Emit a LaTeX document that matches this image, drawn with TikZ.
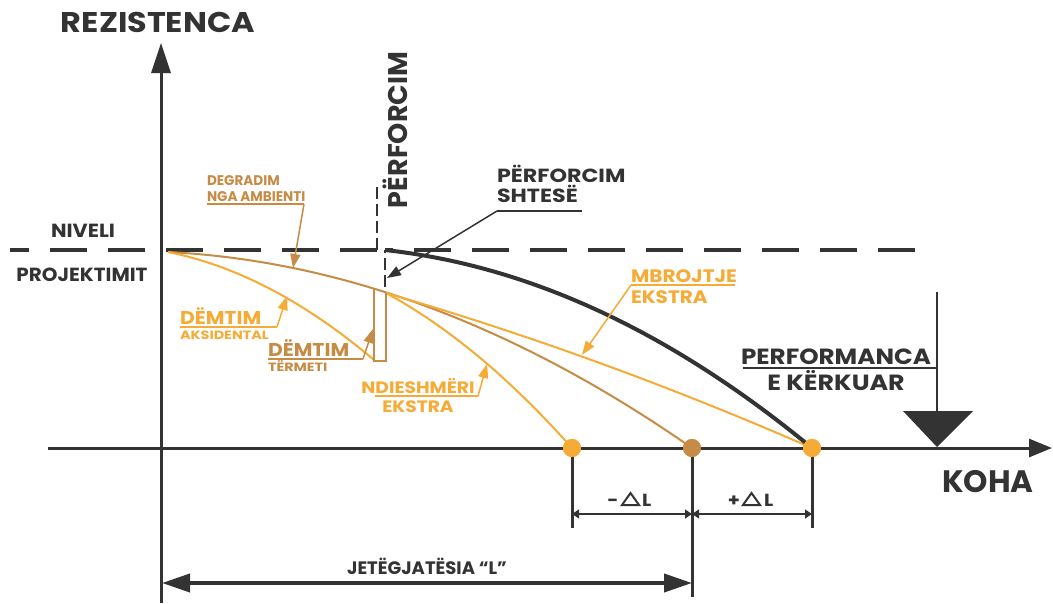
\documentclass[tikz,border=0pt]{standalone}
\usepackage{fontspec}
\setmainfont{Poppins}
\usetikzlibrary{arrows.meta}
\definecolor{dk}{HTML}{333333}
\definecolor{orn}{HTML}{F5AB35}
\definecolor{brn}{HTML}{C68B44}
\newcommand\fs[2]{\fontsize{#1pt}{#1pt}\selectfont\bfseries\addfontfeatures{FakeStretch=#2}}
\tikzset{
  lab/.style={inner sep=0pt, outer sep=0pt},
  axis/.style={draw=dk, line width=3pt},
  lead/.style={line width=1.5pt},
  leadarrow/.style={line width=1.5pt, -{Triangle[length=14pt,width=10pt]}},
  dimarrow/.style={draw=dk, line width=1.2pt, {Triangle[length=7pt,width=9pt]}-{Triangle[length=7pt,width=9pt]}},
  tick/.style={draw=dk, line width=3pt},
  dot/.style={circle, inner sep=0pt, minimum size=18pt},
  level/.style={draw=dk, line width=4pt, dash pattern=on 37pt off 21pt},
  thindash/.style={draw=dk, line width=2pt, dash pattern=on 12pt off 5pt},
  curve/.style={line width=2pt},
  deltri/.style={draw=dk, line width=2pt, line join=miter}
}
\begin{document}
\begin{tikzpicture}[x=1pt,y=-1pt]
\useasboundingbox (0,0) rectangle (1053,603);
% axes
\coordinate (ybot) at (161,603);
\coordinate (ytop) at (161,43);
\coordinate (xl) at (48,448);
\coordinate (xr) at (1052,448);
\draw[axis, -{Triangle[length=30pt,width=19pt]}] (ybot) -- (ytop);
\draw[axis, -{Triangle[length=23pt,width=18pt]}] (xl) -- (xr);
% design level
\coordinate (lvA) at (10,250);
\coordinate (lvB) at (377,250);
\coordinate (lvC) at (377,185);
\coordinate (lvD) at (385,287);
\coordinate (lvE) at (385,250);
\coordinate (lvF) at (915,250);
\draw[level] (lvB) -- (lvA);
\draw[level] (lvF) -- (lvE);
\draw[thindash] (lvB) -- (lvC);
\draw[thindash] (lvD) -- (lvE);
% dots
\node[dot, fill=orn] (d1) at (572,448) {};
\node[dot, fill=brn] (d2) at (692,448) {};
\node[dot, fill=orn] (d3) at (812,448) {};
% curves
\coordinate (o) at (168,252);
\coordinate (rq) at (386,293);
\draw[curve, brn] (o) .. controls (342.7,260.9) and (517.3,326.2) .. (d2.center);
\draw[curve, orn] (o) .. controls (236.7,265.8) and (305.3,301.8) .. (374,360);
\draw[curve, orn] (rq) .. controls (528,334.3) and (670,386) .. (d3.center);
\draw[curve, orn] (rq) .. controls (448,326.6) and (510,378.3) .. (d1.center);
\draw[line width=4pt, dk] (lvE) .. controls (526.7,265.5) and (668.3,329.5) .. (d3.center);
% earthquake drop
\draw[curve, brn] (374,289) -- (374,361) -- (386,361) -- (386,293);
% redraw dots on top
\node[dot, fill=orn] at (d1) {};
\node[dot, fill=brn] at (d2) {};
\node[dot, fill=orn] at (d3) {};
% ticks
\coordinate (t1) at (572,528);
\coordinate (t2) at (692,597);
\coordinate (t3) at (812,528);
\draw[tick] (d1.south) -- (t1);
\draw[tick] (d2.south) -- (t2);
\draw[tick] (d3.south) -- (t3);
% dimension arrows
\coordinate (m1) at (572,514);
\coordinate (m2) at (692,514);
\coordinate (m3) at (812,514);
\draw[dimarrow] (m1) -- (m2);
\draw[dimarrow] (m2) -- (m3);
\node[lab, text=dk, anchor=base, font=\fs{17.5}{1.1}] (dlm1) at (613,506) {-};
\draw[deltri] (622,505) -- (639,505) -- (630.5,493) -- cycle;
\node[lab, text=dk, anchor=base west, font=\fs{17.5}{1.1}] (dlm2) at (642,506) {L};
\node[lab, text=dk, anchor=base, font=\fs{17.5}{1.1}] (dlp1) at (734,506) {+};
\draw[deltri] (743,505) -- (760,505) -- (751.5,493) -- cycle;
\node[lab, text=dk, anchor=base west, font=\fs{17.5}{1.1}] (dlp2) at (764,506) {L};
\coordinate (L1) at (162,583);
\coordinate (L2) at (692,583);
\draw[draw=dk, line width=4pt, {Triangle[length=28pt,width=18pt]}-{Triangle[length=28pt,width=18pt]}] (L1) -- (L2);
\node[lab, text=dk, anchor=base, font=\fs{18}{1.0}] (jl) at (427,574) {JETËGJATËSIA “L”};
% axis labels
\node[lab, text=dk, anchor=base, font=\fs{28.5}{1.12}] (rez) at (158,32) {REZISTENCA};
\node[lab, text=dk, anchor=base, font=\fs{31}{1.0}] (koha) at (988,492) {KOHA};
\node[lab, text=dk, anchor=base, font=\fs{19}{1.09}] (niv) at (83,237) {NIVELI};
\node[lab, text=dk, anchor=base, font=\fs{19}{1.05}] (proj) at (82,281) {PROJEKTIMIT};
% perforcim vertical
\node[lab, text=dk, anchor=base west, rotate=90, font=\fs{27}{1.0}] (perv) at (407,208) {PËRFORCIM};
% degradim
\node[lab, text=brn, anchor=base west, font=\fs{14}{0.97}] (deg1) at (207,185) {DEGRADIM};
\node[lab, text=brn, anchor=base west, font=\fs{14}{0.97}] (deg2) at (207,201) {NGA AMBIENTI};
\coordinate (degU1) at (207,204);
\coordinate (degU2) at (304,204);
\coordinate (degT) at (293,268);
\draw[lead, brn] (degU1) -- (degU2);
\draw[leadarrow, brn] (degU2) -- (degT);
% demtim aksidental
\node[lab, text=orn, anchor=base west, font=\fs{18.5}{1.1}] (dem1) at (180,324) {DËMTIM};
\node[lab, text=orn, anchor=base west, font=\fs{12}{1.2}] (aks) at (180,339) {AKSIDENTAL};
\coordinate (akU1) at (180,327);
\coordinate (akU2) at (277,327);
\coordinate (akT) at (287,296);
\draw[lead, orn] (akU1) -- (akU2);
\draw[leadarrow, orn] (akU2) -- (akT);
% demtim termeti
\node[lab, text=brn, anchor=base west, font=\fs{18.5}{1.1}] (dem2) at (268,356) {DËMTIM};
\node[lab, text=brn, anchor=base west, font=\fs{12}{1.2}] (ter) at (268,371) {TËRMETI};
\coordinate (teU1) at (268,359);
\coordinate (teU2) at (363,359);
\coordinate (teT) at (373,329);
\draw[lead, brn] (teU1) -- (teU2);
\draw[leadarrow, brn] (teU2) -- (teT);
% ndieshmeri
\node[lab, text=orn, anchor=base, font=\fs{16.5}{1.13}] (nd1) at (418,393) {NDIESHMËRI};
\node[lab, text=orn, anchor=base, font=\fs{16.5}{1.13}] (nd2) at (418,412) {EKSTRA};
\coordinate (ndU1) at (375,396);
\coordinate (ndU2) at (478,396);
\coordinate (ndT) at (487,364);
\draw[lead, orn] (ndU1) -- (ndU2);
\draw[leadarrow, orn] (ndU2) -- (ndT);
% mbrojtje
\node[lab, text=orn, anchor=base west, font=\fs{18}{1.11}] (mb1) at (631,282) {MBROJTJE};
\node[lab, text=orn, anchor=base west, font=\fs{18}{1.11}] (mb2) at (631,303) {EKSTRA};
\coordinate (mbU1) at (631,285);
\coordinate (mbU2) at (735,285);
\coordinate (mbT) at (582,355);
\draw[lead, orn] (mbU1) -- (mbU2);
\draw[leadarrow, orn] (mbU1) -- (mbT);
% perforcim shtese
\node[lab, text=dk, anchor=base west, font=\fs{19}{1.17}] (ps1) at (497,182) {PËRFORCIM};
\node[lab, text=dk, anchor=base west, font=\fs{19}{1.17}] (ps2) at (497,202) {SHTESË};
\coordinate (psU1) at (497,211);
\coordinate (psU2) at (582,211);
\coordinate (psT) at (387,278);
\draw[lead, dk] (psU1) -- (psU2);
\draw[leadarrow, dk] (psU1) -- (psT);
% performanca
\node[lab, text=dk, anchor=base, font=\fs{22}{1.12}] (pf1) at (836,364) {PERFORMANCA};
\node[lab, text=dk, anchor=base, font=\fs{22}{1.15}] (pf2) at (836,390) {E KËRKUAR};
\coordinate (pfU1) at (743,368);
\coordinate (pfV1) at (937,292);
\coordinate (pfV2) at (937,411);
\draw[lead, dk] (pfU1) -- (pfU1 -| pfV1);
\draw[line width=2pt, dk] (pfV1) -- (pfV2);
\coordinate (trA) at (903,411);
\coordinate (trB) at (973,411);
\coordinate (trC) at (937,447);
\fill[dk] (trA) -- (trB) -- (trC) -- cycle;
\end{tikzpicture}
\end{document}
